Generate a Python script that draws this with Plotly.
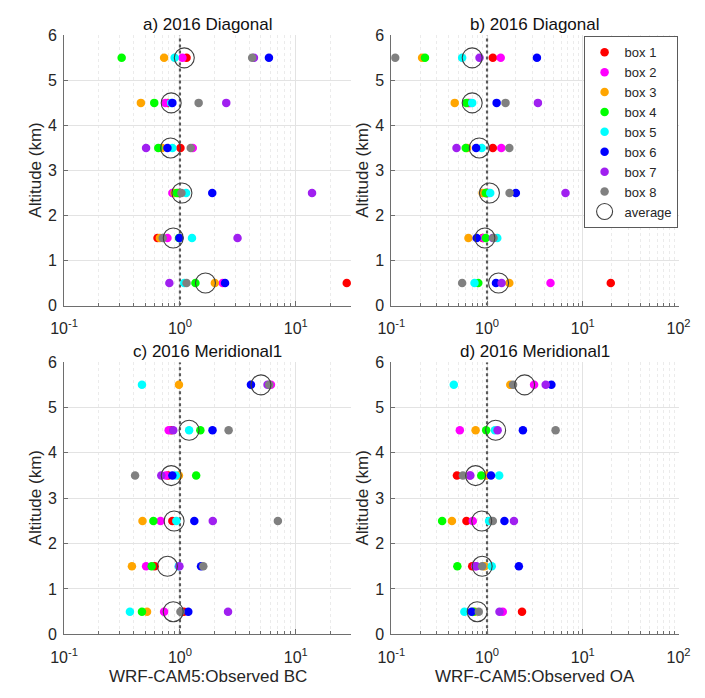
import plotly.graph_objects as go

# ---------------- data ----------------
altitudes = [0.5, 1.5, 2.5, 3.5, 4.5, 5.5]
box_names = ["box 1", "box 2", "box 3", "box 4", "box 5", "box 6", "box 7", "box 8"]
box_colors = ["#FF0000", "#FF00FF", "#FFA500", "#00FF00", "#00FFFF", "#0000FF", "#A020F0", "#808080"]
panel_titles = ["a) 2016 Diagonal", "b) 2016 Diagonal", "c) 2016 Meridional1", "d) 2016 Meridional1"]
x_titles = ["WRF-CAM5:Observed BC", "WRF-CAM5:Observed OA"]
y_title = "Altitude (km)"
y_ticks = [0, 1, 2, 3, 4, 5, 6]
reference_ratio = 1.0

# a) Diagonal BC  (values at altitudes 0.5 ... 5.5 km)
diag_bc_box1 = [27.5, 0.64, 0.97, 1.01, 0.79, 1.14]
diag_bc_box2 = [2.34, 0.78, 0.86, 1.29, 0.75, 1.05]
diag_bc_box3 = [2.0, 0.67, 0.90, 0.70, 0.46, 0.73]
diag_bc_box4 = [1.36, 0.98, 0.94, 0.65, 0.60, 0.314]
diag_bc_box5 = [1.09, 1.27, 1.13, 0.86, 0.84, 0.90]
diag_bc_box6 = [2.45, 0.99, 1.90, 0.78, 0.86, 5.86]
diag_bc_box7 = [0.81, 3.14, 13.8, 0.51, 2.51, 4.35]
diag_bc_box8 = [1.14, 0.71, 1.03, 1.24, 1.45, 4.2]
diag_bc_avg = [1.66, 0.875, 1.04, 0.83, 0.84, 1.09]

# b) Diagonal OA
diag_oa_box1 = [19.6, 0.90, 0.96, 1.15, 0.64, 1.15]
diag_oa_box2 = [4.6, 0.92, 1.04, 1.41, 0.67, 1.39]
diag_oa_box3 = [1.71, 0.64, 0.90, 0.62, 0.46, 0.21]
diag_oa_box4 = [0.81, 0.97, 0.97, 0.60, 0.61, 0.225]
diag_oa_box5 = [0.74, 1.28, 1.08, 0.88, 0.70, 0.55]
diag_oa_box6 = [1.24, 0.78, 2.0, 0.77, 1.26, 3.32]
diag_oa_box7 = [1.42, 1.15, 6.6, 0.48, 3.4, 0.835]
diag_oa_box8 = [0.55, 1.17, 1.72, 1.71, 1.56, 0.110]
diag_oa_avg = [1.32, 0.95, 1.06, 0.83, 0.70, 0.70]

# c) Meridional1 BC
mer_bc_box1 = [1.08, 0.605, 0.86, 0.79, 0.84, None]
mer_bc_box2 = [0.73, 0.51, 0.68, 0.755, 0.80, 6.1]
mer_bc_box3 = [0.52, 0.385, 0.475, 0.98, None, 0.98]
mer_bc_box4 = [0.47, 0.57, 0.59, 1.38, 1.50, None]
mer_bc_box5 = [0.37, 0.975, 0.93, 0.92, 1.20, 0.47]
mer_bc_box6 = [1.18, 1.52, 1.33, 0.86, 1.91, 4.1]
mer_bc_box7 = [2.6, 0.99, 1.92, 0.69, 0.875, 5.7]
mer_bc_box8 = [1.01, 1.59, 7.0, 0.41, 2.63, 5.9]
mer_bc_avg = [0.875, 0.78, 0.89, 0.84, 1.20, 5.0]

# d) Meridional1 OA
mer_oa_box1 = [2.32, 0.70, 0.61, 0.485, None, None]
mer_oa_box2 = [1.46, 0.75, 0.71, 0.66, 0.52, 3.1]
mer_oa_box3 = [0.75, 0.94, 0.43, 0.98, 0.76, 1.75]
mer_oa_box4 = [0.72, 0.49, 0.34, 0.87, 0.98, None]
mer_oa_box5 = [0.58, 1.12, 1.05, 1.34, 1.21, 0.45]
mer_oa_box6 = [0.69, 2.15, 1.52, 1.10, 2.37, 4.7]
mer_oa_box7 = [1.35, 0.775, 1.91, 0.67, 1.29, 4.1]
mer_oa_box8 = [0.82, 0.89, 1.15, 0.56, 5.2, 1.87]
mer_oa_avg = [0.79, 0.89, 0.88, 0.76, 1.23, 2.47]

panels = [
    ([diag_bc_box1, diag_bc_box2, diag_bc_box3, diag_bc_box4, diag_bc_box5, diag_bc_box6, diag_bc_box7, diag_bc_box8], diag_bc_avg),
    ([diag_oa_box1, diag_oa_box2, diag_oa_box3, diag_oa_box4, diag_oa_box5, diag_oa_box6, diag_oa_box7, diag_oa_box8], diag_oa_avg),
    ([mer_bc_box1, mer_bc_box2, mer_bc_box3, mer_bc_box4, mer_bc_box5, mer_bc_box6, mer_bc_box7, mer_bc_box8], mer_bc_avg),
    ([mer_oa_box1, mer_oa_box2, mer_oa_box3, mer_oa_box4, mer_oa_box5, mer_oa_box6, mer_oa_box7, mer_oa_box8], mer_oa_avg),
]

# ---------------- layout geometry ----------------
W, H = 705, 698
FONT = "Liberation Sans, Arial, Helvetica, sans-serif"
x_domains = [[52 / W, 350 / W], [391.7 / W, 690 / W], [52 / W, 350 / W], [391.7 / W, 690 / W]]
y_domains = [[1 - 305 / H, 1 - 28 / H], [1 - 305 / H, 1 - 28 / H], [1 - 642 / H, 1 - 363 / H], [1 - 642 / H, 1 - 363 / H]]
x_log_ranges = [[-1, 1.477], [-1, 2], [-1, 1.477], [-1, 2]]

fig = go.Figure()

for p, (boxes, avg) in enumerate(panels):
    suffix = "" if p == 0 else str(p + 1)
    xa, ya = "x" + suffix, "y" + suffix
    # reference dotted line at ratio = 1
    fig.add_trace(go.Scatter(
        x=[reference_ratio, reference_ratio], y=[y_ticks[0], y_ticks[-1]], mode="lines",
        line=dict(color="#5a5a5a", width=2.2, dash="dot"), showlegend=False,
        hoverinfo="skip", xaxis=xa, yaxis=ya))
    for i, vals in enumerate(boxes):
        fig.add_trace(go.Scatter(
            x=vals, y=altitudes, mode="markers", name=box_names[i],
            marker=dict(color=box_colors[i], size=8.5, line=dict(width=0)),
            legendgroup=box_names[i], showlegend=(p == 1), xaxis=xa, yaxis=ya))
    fig.add_trace(go.Scatter(
        x=avg, y=altitudes, mode="markers", name="average",
        marker=dict(symbol="circle-open", color="#404040", size=20, line=dict(width=1.1)),
        legendgroup="average", showlegend=(p == 1), xaxis=xa, yaxis=ya))

layout = dict(
    width=W, height=H, margin=dict(l=0, r=0, t=0, b=0),
    paper_bgcolor="white", plot_bgcolor="white",
    font=dict(family=FONT, color="#262626"),
    legend=dict(x=689 / W, xanchor="right", y=1 - 29 / H, yanchor="top",
                bgcolor="white", bordercolor="#5a5a5a", borderwidth=1,
                font=dict(size=13, family=FONT, color="#262626"),
                tracegroupgap=0, itemwidth=30),
)

for p in range(4):
    suffix = "" if p == 0 else str(p + 1)
    lo, hi = x_log_ranges[p]
    decades = list(range(int(lo), int(hi) + 1))
    major = [10.0 ** d for d in decades]
    major_txt = ["10<sup>%d</sup>" % d for d in decades]
    minor = [m * 10.0 ** d for d in decades for m in range(2, 10) if m * 10.0 ** d <= 10 ** hi * 1.0001]
    layout["xaxis" + suffix] = dict(
        type="log", range=[lo, hi], domain=x_domains[p], anchor="y" + suffix,
        tickmode="array", tickvals=major, ticktext=major_txt,
        ticks="inside", ticklen=5, tickcolor="#6e6e6e",
        showline=True, linecolor="#6e6e6e", linewidth=1, mirror=False,
        showgrid=True, gridcolor="#e3e3e3", gridwidth=1,
        tickfont=dict(size=16, family=FONT, color="#262626"),
        ticklabelstandoff=8,
        minor=dict(tickmode="array", tickvals=minor, ticks="inside", ticklen=3,
                   tickcolor="#6e6e6e", showgrid=True, gridcolor="#ebebeb",
                   griddash="dot", gridwidth=1),
        zeroline=False, fixedrange=True,
    )
    layout["yaxis" + suffix] = dict(
        range=[0, 6], domain=y_domains[p], anchor="x" + suffix,
        tickmode="array", tickvals=y_ticks,
        ticks="inside", ticklen=4, tickcolor="#6e6e6e",
        showline=True, linecolor="#6e6e6e", linewidth=1,
        showgrid=True, gridcolor="#e3e3e3", gridwidth=1,
        tickfont=dict(size=16, family=FONT, color="#262626"),
        ticklabelstandoff=3,
        zeroline=False, fixedrange=True,
    )

fig.update_layout(**layout)

annotations = []
for p in range(4):
    xc = (x_domains[p][0] + x_domains[p][1]) / 2
    ytop = y_domains[p][1]
    annotations.append(dict(text=panel_titles[p], x=xc, y=ytop + 11 / H, xref="paper", yref="paper",
                            xanchor="center", yanchor="middle", showarrow=False,
                            font=dict(size=17, family=FONT, color="#111111")))
    annotations.append(dict(text=y_title, x=x_domains[p][0] - 30 / W, y=(y_domains[p][0] + y_domains[p][1]) / 2,
                            xref="paper", yref="paper", textangle=-90, xanchor="center", yanchor="middle",
                            showarrow=False, font=dict(size=17, family=FONT, color="#262626")))
for p, t in zip([2, 3], x_titles):
    xc = (x_domains[p][0] + x_domains[p][1]) / 2
    annotations.append(dict(text=t, x=xc, y=1 - 685 / H, xref="paper", yref="paper",
                            xanchor="center", yanchor="middle", showarrow=False,
                            font=dict(size=17, family=FONT, color="#262626")))
fig.update_layout(annotations=annotations)

fig.write_html("out.html")
